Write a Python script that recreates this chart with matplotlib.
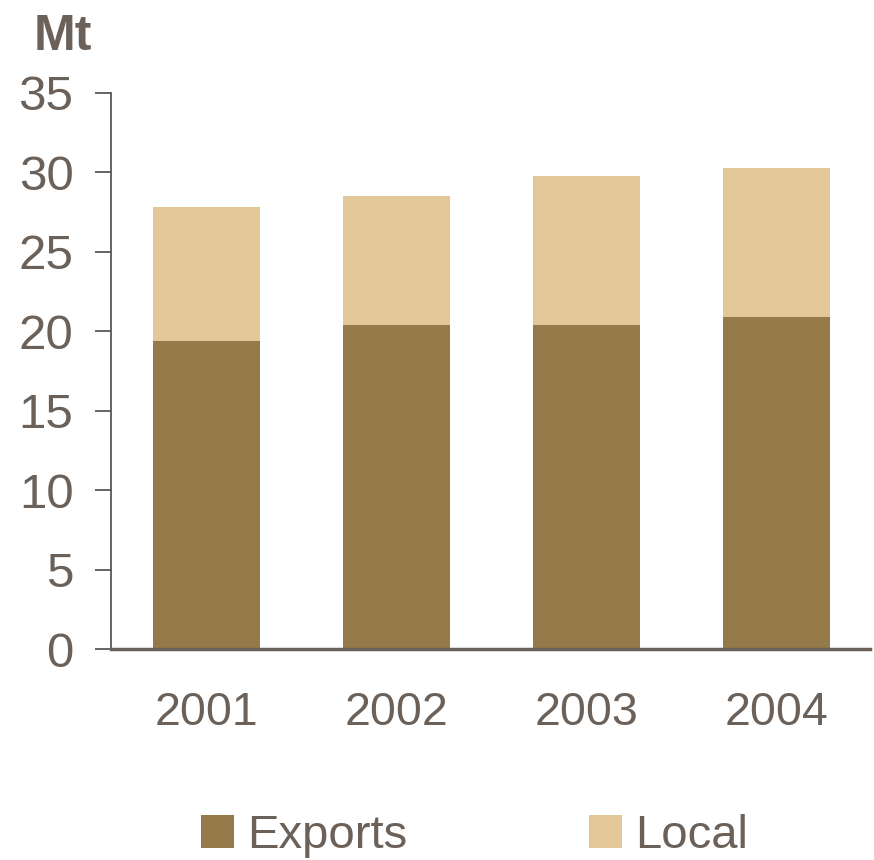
import matplotlib
matplotlib.use("Agg")
import matplotlib.pyplot as plt
from matplotlib.patches import Patch

years = ["2001", "2002", "2003", "2004"]
exports = [19.4, 20.4, 20.4, 20.9]
local = [8.4, 8.1, 9.4, 9.4]
yticks = [0, 5, 10, 15, 20, 25, 30, 35]

c_exports = "#937A48"
c_local = "#E2C799"
c_text = "#6B6159"

plt.rcParams["font.family"] = ["Liberation Sans", "DejaVu Sans"]

fig = plt.figure(figsize=(8.74, 8.60), dpi=100)
ax = fig.add_axes([0.127, 0.2453, 0.868, 0.6466])

x = list(range(len(years)))
ax.bar(x, exports, width=0.563, color=c_exports, zorder=2)
ax.bar(x, local, width=0.563, bottom=exports, color=c_local, zorder=2)

ax.set_xlim(-0.5, 3.49)
ax.set_ylim(0, 35)
ax.set_yticks(yticks)
ax.set_xticks(x)
ax.set_xticklabels(years)

for s in ["top", "right"]:
    ax.spines[s].set_visible(False)
ax.spines["left"].set_color("#4a4a4a")
ax.spines["left"].set_linewidth(1.2)
ax.spines["bottom"].set_color(c_text)
ax.spines["bottom"].set_linewidth(2.5)
ax.spines["bottom"].set_zorder(3)

ax.tick_params(axis="y", length=11.5, width=1.2, color="#4a4a4a",
               labelsize=35.5, labelcolor=c_text, pad=15.5)
ax.tick_params(axis="x", length=0, labelsize=33.5, labelcolor=c_text, pad=30.5)

fig.text(0.038, 0.942, "Mt", fontsize=36, fontweight="bold", color=c_text,
         ha="left", va="baseline")

handles = [Patch(facecolor=c_exports, edgecolor="none", label="Exports"),
           Patch(facecolor=c_local, edgecolor="none", label="Local")]
leg = fig.legend(handles=handles, loc="center", bbox_to_anchor=(0.543, 0.028),
                 ncol=2, frameon=False, fontsize=34, handlelength=0.7,
                 handleheight=0.7, handletextpad=0.27, columnspacing=3.85,
                 borderaxespad=0, borderpad=0)
for t in leg.get_texts():
    t.set_color(c_text)

fig.savefig("out.png", dpi=100)
